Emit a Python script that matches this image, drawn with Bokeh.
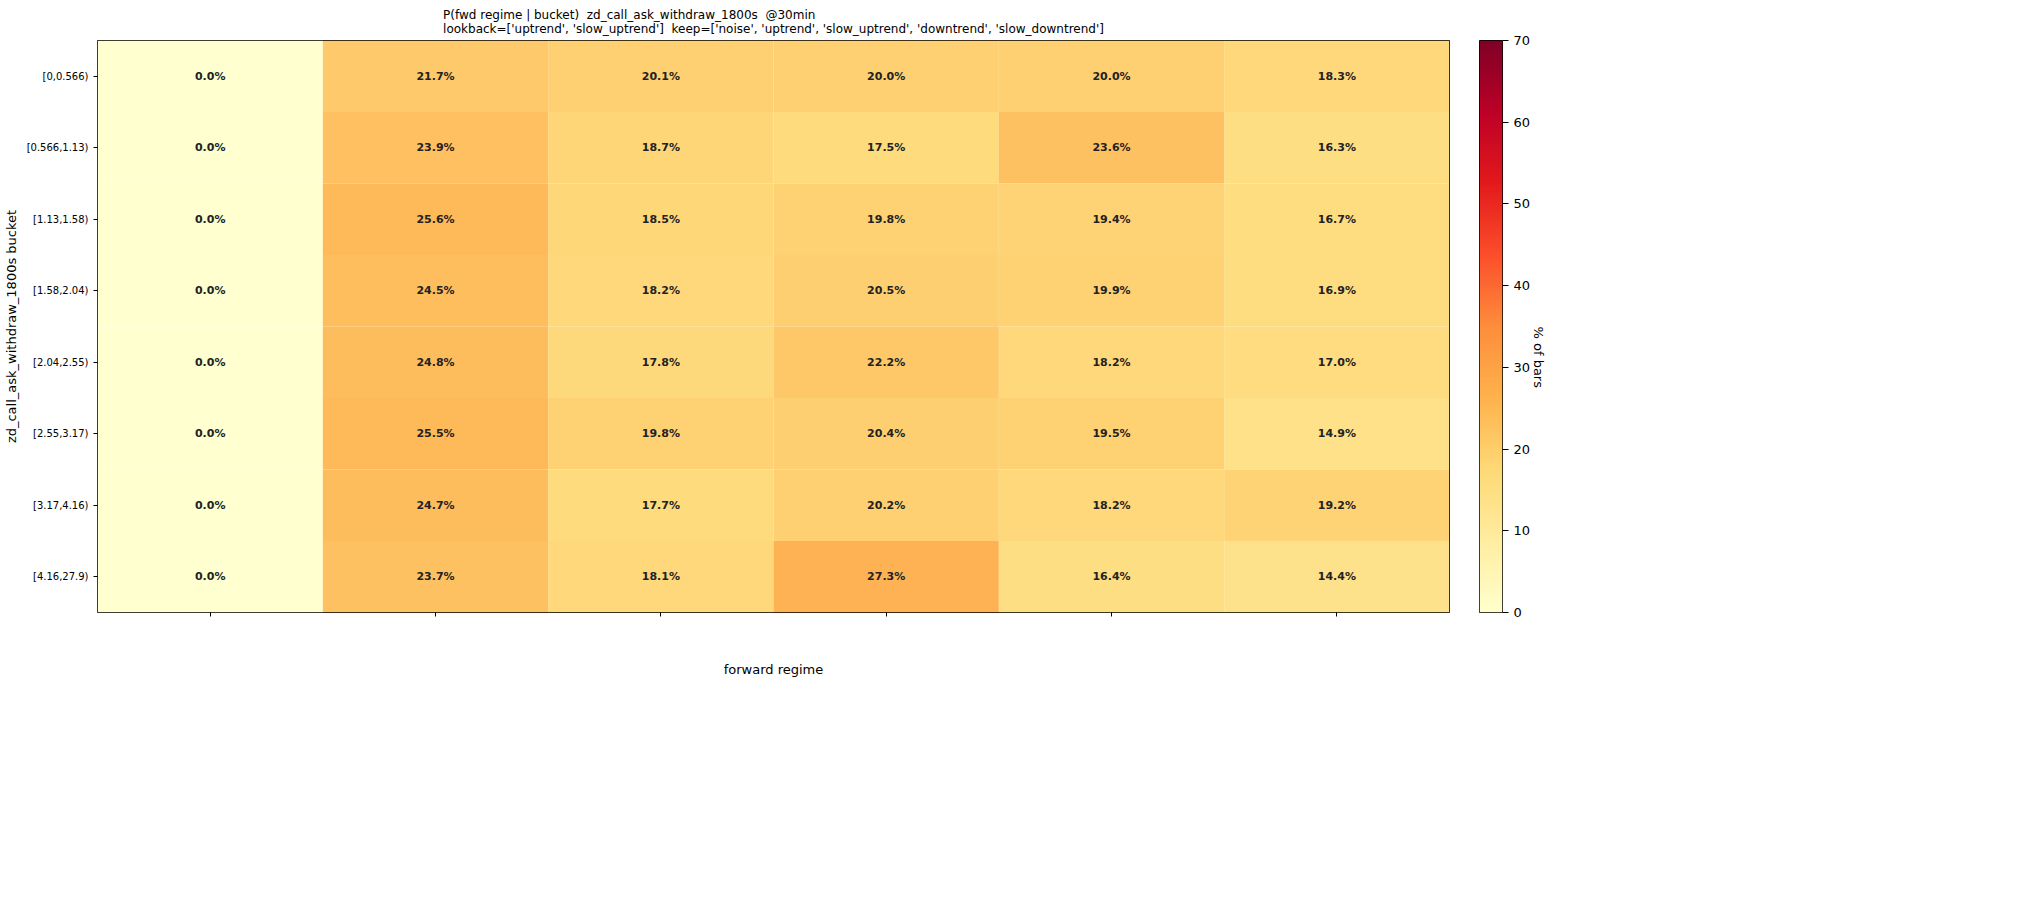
import numpy as np
from bokeh.plotting import figure
from bokeh.layouts import row
from bokeh.models import LinearColorMapper, ColumnDataSource, Label, FactorRange, Range1d, LinearAxis, FixedTicker
from bokeh.palettes import YlOrRd9
from bokeh.transform import transform
from bokeh.core.properties import value
from bokeh.embed import file_html
from bokeh.resources import INLINE

regimes = ["range_bound", "noise", "uptrend", "slow_uptrend", "downtrend", "slow_downtrend"]
regime_colors = ["#aaaaaa", "#4caf50", "#e53935", "#f4a460", "#3a8ee6", "#9370db"]
buckets = ["[0,0.566)", "[0.566,1.13)", "[1.13,1.58)", "[1.58,2.04)", "[2.04,2.55)",
           "[2.55,3.17)", "[3.17,4.16)", "[4.16,27.9)"]
values = [
    [0.0, 21.7, 20.1, 20.0, 20.0, 18.3],
    [0.0, 23.9, 18.7, 17.5, 23.6, 16.3],
    [0.0, 25.6, 18.5, 19.8, 19.4, 16.7],
    [0.0, 24.5, 18.2, 20.5, 19.9, 16.9],
    [0.0, 24.8, 17.8, 22.2, 18.2, 17.0],
    [0.0, 25.5, 19.8, 20.4, 19.5, 14.9],
    [0.0, 24.7, 17.7, 20.2, 18.2, 19.2],
    [0.0, 23.7, 18.1, 27.3, 16.4, 14.4],
]

xs, ys, vs, ls = [], [], [], []
for b, rowv in zip(buckets, values):
    for r, v in zip(regimes, rowv):
        xs.append(r); ys.append(b); vs.append(v); ls.append(f"{v:.1f}%")
src = ColumnDataSource(dict(x=xs, y=ys, v=vs, l=ls))

pal = list(reversed(YlOrRd9))
def hex2rgb(h): return tuple(int(h[i:i+2], 16) for i in (1, 3, 5))
base = np.array([hex2rgb(c) for c in pal], dtype=float)
t = np.linspace(0, 1, 256)
pos = np.linspace(0, 1, len(pal))
smooth = ["#%02x%02x%02x" % tuple(int(round(np.interp(tt, pos, base[:, k]))) for k in range(3)) for tt in t]
mapper = LinearColorMapper(palette=smooth, low=0, high=70)

nb = "\u00a0\u00a0"
title = (f"P(fwd regime | bucket){nb}zd_call_ask_withdraw_1800s{nb}@30min\n"
         f"lookback=['uptrend', 'slow_uptrend']{nb}keep=['noise', 'uptrend', 'slow_uptrend', 'downtrend', 'slow_downtrend']")

p = figure(width=1457, height=700, x_range=FactorRange(*regimes), y_range=FactorRange(*reversed(buckets)),
           output_backend="svg", toolbar_location=None, title=title,
           min_border_left=92, min_border_right=8, min_border_bottom=88, min_border_top=0)
p.title.align = "center"
p.title.text_font = "DejaVu Sans"
p.title.text_font_size = "12px"
p.title.text_font_style = "normal"
p.title.text_color = "black"
p.rect(x="x", y="y", width=1, height=1, source=src, fill_color=transform("v", mapper),
       fill_alpha=0.95, line_color=None)
p.text(x="x", y="y", text="l", source=src, text_align="center", text_baseline="middle",
       text_font=value("DejaVu Sans"), text_font_size="11px", text_font_style="bold", text_color="#222222")
p.grid.visible = False
p.outline_line_color = "black"
p.xaxis.major_label_text_font_size = "0px"
p.xaxis.major_label_text_color = None
p.xaxis.axis_label = "forward regime"
p.xaxis.axis_label_standoff = 45
p.yaxis.axis_label = "zd_call_ask_withdraw_1800s bucket"
for ax in (p.xaxis, p.yaxis):
    ax.axis_label_text_font = "DejaVu Sans"
    ax.axis_label_text_font_size = "13px"
    ax.axis_label_text_font_style = "normal"
    ax.axis_label_text_color = "black"
    ax.major_tick_in = 0
    ax.major_tick_out = 4
    ax.minor_tick_line_color = None
    ax.axis_line_color = None
p.yaxis.major_label_text_font = "DejaVu Sans"
p.yaxis.major_label_text_font_size = "10px"
p.yaxis.major_label_text_color = "black"
for i, (r, c) in enumerate(zip(regimes, regime_colors)):
    p.add_layout(Label(x=i + 0.5 + 0.05, y=-8, y_units="screen", text=r, text_color=c,
                       text_font="DejaVu Sans", text_font_size="13px", angle=15, angle_units="deg",
                       text_align="right", text_baseline="top"))

cb = figure(width=105, height=700, x_range=Range1d(0, 1), y_range=Range1d(0, 70),
            output_backend="svg", toolbar_location=None, y_axis_location=None,
            min_border_left=22, min_border_right=60, min_border_top=32, min_border_bottom=88)
cb.image(image=[np.linspace(0, 70, 256).reshape(-1, 1)], x=0, y=0, dw=1, dh=70, color_mapper=mapper)
cb.xaxis.visible = False
cb.grid.visible = False
cb.outline_line_color = "black"
ax = LinearAxis(ticker=FixedTicker(ticks=[0, 10, 20, 30, 40, 50, 60, 70]), axis_label="% of bars")
ax.axis_label_text_font = "DejaVu Sans"
ax.axis_label_text_font_size = "13px"
ax.axis_label_text_font_style = "normal"
ax.axis_label_text_color = "black"
ax.axis_label_orientation = -np.pi / 2
ax.major_label_text_font = "DejaVu Sans"
ax.major_label_text_font_size = "13px"
ax.major_label_text_color = "black"
ax.major_tick_in = 0
ax.minor_tick_line_color = None
ax.axis_line_color = None
cb.add_layout(ax, "right")

layout = row(p, cb, spacing=0)
open("out.html", "w").write(file_html(layout, INLINE))
